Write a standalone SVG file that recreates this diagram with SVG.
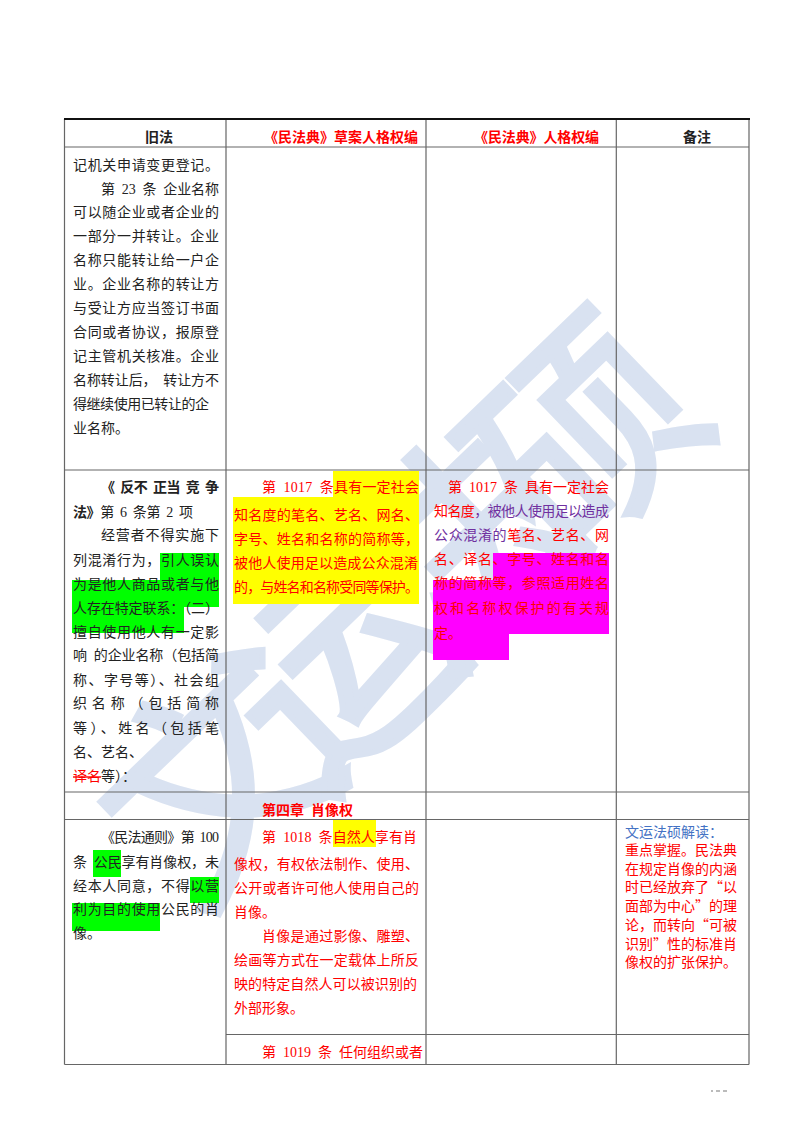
<svg xmlns="http://www.w3.org/2000/svg" width="800" height="1132" viewBox="0 0 800 1132">
<style>
text{font-family:"Liberation Serif","Noto Sans CJK SC",serif;font-size:14px;fill:#222;white-space:pre}
.r{fill:#f00}.p{fill:#7030a0}.u{fill:#4472c4}.b{font-weight:700}
.n{font-family:"Noto Sans CJK SC",sans-serif}
.wm{font-family:"Noto Sans CJK SC",sans-serif;font-size:220px;font-weight:400;fill:#d9e2f1;stroke:#d9e2f1;stroke-width:6;text-anchor:middle}
.g{fill:#0f0}.y{fill:#ff0}.m{fill:#f0f}
.l{stroke:#666;stroke-width:1.2;fill:none}
</style>
<rect width="800" height="1132" fill="#fff"/>
<g id="watermark">
<text class="wm" transform="translate(219 782) rotate(-44)" y="78">文</text>
<text class="wm" transform="translate(341 667) rotate(-44)" y="78">运</text>
<text class="wm" transform="translate(463 552) rotate(-44)" y="78">法</text>
<text class="wm" transform="translate(585 437) rotate(-44)" y="78">硕</text>
</g>
<g id="highlights">
<path class="g" d="M160 553H219V607H184V633H72V580H160Z"/>
<path class="y" d="M333 471H419V604H233V497H333Z"/>
<path class="m" d="M493 553H609V634H509V660H433V580H493Z"/>
<rect class="y" x="333" y="820" width="43" height="27"/>
<rect class="g" x="93" y="850" width="28" height="27"/>
<path class="g" d="M190 877H219V903H160V931H72V903H190Z"/>
</g>
<g id="connectors">
<path class="l" d="M64.5 119V1064.5M226 119V1064.5M426 119V1064.5M616.3 119V1064.5M749 119V1064.5M64.5 147H749M64.5 470H749M64.5 792H749M64.5 819.5H749M226 1034.5H749M64.5 1064.5H749"/>
<path d="M64 119H750" stroke="#111" stroke-width="2"/>
</g>
<g id="header">
<text class="b" x="145" y="142">旧法</text>
<text class="b r" x="264" y="142" textLength="154">《民法典》草案人格权编</text>
<text class="b r" x="474" y="142" textLength="125">《民法典》人格权编</text>
<text class="b" x="683" y="142">备注</text>
</g>
<g id="cell-old-1">
<text x="73" y="170" textLength="146">记机关申请变更登记。</text>
<text x="101" y="194" textLength="118">第  23  条  企业名称</text>
<text x="73" y="217" textLength="146">可以随企业或者企业的</text>
<text x="73" y="241" textLength="146">一部分一并转让。企业</text>
<text x="73" y="265" textLength="146">名称只能转让给一户企</text>
<text x="73" y="289" textLength="146">业。企业名称的转让方</text>
<text x="73" y="313" textLength="146">与受让方应当签订书面</text>
<text x="73" y="337" textLength="146">合同或者协议，报原登</text>
<text x="73" y="361" textLength="146">记主管机关核准。企业</text>
<text x="73" y="385" textLength="146">名称转让后，  转让方不</text>
<text x="73" y="409" textLength="136">得继续使用已转让的企</text>
<text x="73" y="433">业名称。</text>
</g>
<g id="cell-old-2">
<text class="b" x="101" y="492" textLength="118">《  反不  正当  竞  争</text>
<text x="73" y="517" textLength="120"><tspan class="b">法》</tspan>第  6  条第  2  项</text>
<text x="101" y="540" textLength="118">经营者不得实施下</text>
<text x="73" y="565" textLength="146">列混淆行为，引人误认</text>
<text x="73" y="589" textLength="146">为是他人商品或者与他</text>
<text x="73" y="613" textLength="146">人存在特定联系：（二）</text>
<text x="73" y="637" textLength="146">擅自使用他人有一定影</text>
<text x="73" y="660" textLength="146">响  的企业名称（包括简</text>
<text x="73" y="685" textLength="146">称、字号等）、社会组</text>
<text x="73" y="708" textLength="146">织名称（包括简称</text>
<text x="73" y="733" textLength="146">等）、姓名（包括笔</text>
<text x="73" y="757">名、艺名、</text>
<text x="73" y="781"><tspan class="r" text-decoration="line-through">译名</tspan>等）：</text>
</g>
<g id="cell-draft-1017">
<text class="r" x="262" y="492" textLength="157">第  1017  条具有一定社会</text>
<text class="r" x="234" y="520" textLength="185">知名度的笔名、艺名、网名、</text>
<text class="r" x="234" y="544" textLength="185">字号、姓名和名称的简称等，</text>
<text class="r" x="234" y="568" textLength="184">被他人使用足以造成公众混淆</text>
<text class="r" x="234" y="592" textLength="185">的，与姓名和名称受同等保护。</text>
</g>
<g id="cell-code-1017">
<text class="r" x="448" y="492" textLength="161">第  1017  条  具有一定社会</text>
<text x="434" y="516" textLength="175"><tspan class="r">知名度</tspan><tspan class="p">，被他人使用足以造成</tspan></text>
<text x="434" y="540" textLength="175"><tspan class="p">公众混淆的</tspan><tspan class="r">笔名、艺名、网</tspan></text>
<text class="r" x="434" y="564" textLength="175">名、译名、字号、姓名和名</text>
<text class="r" x="434" y="588" textLength="175">称的简称等，参照适用姓名</text>
<text class="r" x="434" y="613" textLength="175">权和名称权保护的有关规</text>
<text class="r" x="434" y="638">定。</text>
</g>
<g id="cell-chapter"><text class="b r" x="262" y="815">第四章  肖像权</text></g>
<g id="cell-old-100">
<text x="101" y="842" textLength="118">《民法通则》第  100</text>
<text x="73" y="867" textLength="146">条  公民享有肖像权，未</text>
<text x="73" y="891" textLength="146">经本人同意，不得以营</text>
<text x="73" y="914" textLength="146">利为目的使用公民的肖</text>
<text x="73" y="938">像。</text>
</g>
<g id="cell-draft-1018">
<text class="r" x="262" y="842" textLength="155">第  1018  条自然人享有肖</text>
<text class="r" x="234" y="869" textLength="185">像权，有权依法制作、使用、</text>
<text class="r" x="234" y="893" textLength="185">公开或者许可他人使用自己的</text>
<text class="r" x="234" y="917">肖像。</text>
<text class="r" x="262" y="941" textLength="157">肖像是通过影像、雕塑、</text>
<text class="r" x="234" y="965" textLength="185">绘画等方式在一定载体上所反</text>
<text class="r" x="234" y="989" textLength="183">映的特定自然人可以被识别的</text>
<text class="r" x="234" y="1013">外部形象。</text>
</g>
<g id="cell-draft-1019"><text class="r" x="262" y="1057" textLength="161">第  1019  条  任何组织或者</text></g>
<g id="cell-note">
<text class="u n" x="625" y="837">文运法硕解读：</text>
<text class="r n" x="625" y="855">重点掌握。民法典</text>
<text class="r n" x="625" y="874">在规定肖像的内涵</text>
<text class="r n" x="625" y="892">时已经放弃了“以</text>
<text class="r n" x="625" y="911">面部为中心”的理</text>
<text class="r n" x="625" y="930">论，而转向“可被</text>
<text class="r n" x="625" y="949">识别”性的标准肖</text>
<text class="r n" x="625" y="967">像权的扩张保护。</text>
</g>
<g id="page-number-fragments" fill="#bbb"><rect x="711" y="1090" width="2" height="2"/><rect x="716" y="1090" width="4" height="2"/><rect x="723" y="1090" width="4" height="2"/></g>
</svg>
